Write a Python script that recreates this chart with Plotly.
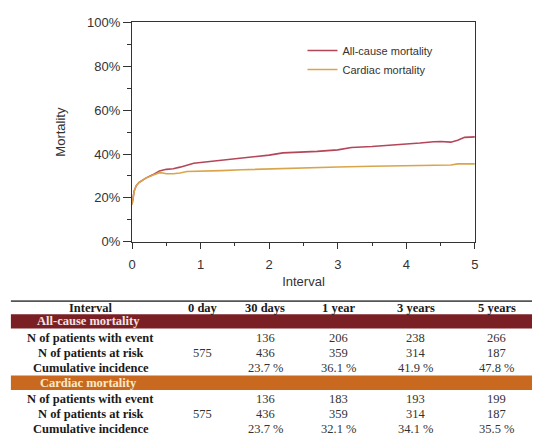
import plotly.graph_objects as go

# ---- Cumulative incidence curves (years, %) ----
allcause_t = [0, 0.01, 0.03, 0.06, 0.1, 0.15, 0.2, 0.3, 0.4, 0.5, 0.6, 0.7, 0.8, 0.9, 1.0,
              1.2, 1.4, 1.6, 1.8, 2.0, 2.2, 2.5, 2.7, 3.0, 3.2, 3.5, 3.8, 4.0, 4.2, 4.4,
              4.5, 4.65, 4.75, 4.85, 5.0]
allcause_y = [17, 20, 23, 25.5, 27, 28, 29, 30.5, 32.3, 33, 33.3, 34, 35, 35.8, 36.1,
              36.8, 37.3, 38, 38.8, 39.5, 40.5, 40.8, 41.2, 41.9, 43, 43.4, 44, 44.6, 45, 45.6,
              45.7, 45.4, 46.3, 47.6, 47.8]

cardiac_t = [0, 0.01, 0.03, 0.06, 0.1, 0.15, 0.2, 0.3, 0.4, 0.45, 0.5, 0.6, 0.7, 0.8, 1.0,
             1.3, 1.6, 2.0, 2.5, 3.0, 3.5, 4.0, 4.5, 4.65, 4.75, 5.0]
cardiac_y = [17, 20, 23, 25.5, 27, 28, 29, 30.3, 31.5, 31.3, 31, 31, 31.3, 32, 32.1,
             32.4, 32.8, 33.2, 33.8, 34.1, 34.4, 34.8, 35.1, 35.0, 35.5, 35.5]

# ---- Table of numbers at risk ----
col_headers = ["Interval", "0 day", "30 days", "1 year", "3 years", "5 years"]
row_labels = ["N of patients with event", "N of patients at risk", "Cumulative incidence"]
allcause_rows = [
    ["", "136", "206", "238", "266"],
    ["575", "436", "359", "314", "187"],
    ["", "23.7 %", "36.1 %", "41.9 %", "47.8 %"],
]
cardiac_rows = [
    ["", "136", "183", "193", "199"],
    ["575", "436", "359", "314", "187"],
    ["", "23.7 %", "32.1 %", "34.1 %", "35.5 %"],
]

W, H = 536, 439
AX_L, AX_R, AX_T, AX_B = 130, 478, 16, 243

ALL_COLOR = "#b4465a"
CARD_COLOR = "#d9a54a"

fig = go.Figure()
fig.add_trace(go.Scatter(x=allcause_t, y=allcause_y, mode="lines", name="All-cause mortality",
                         line=dict(color=ALL_COLOR, width=1.6)))
fig.add_trace(go.Scatter(x=cardiac_t, y=cardiac_y, mode="lines", name="Cardiac mortality",
                         line=dict(color=CARD_COLOR, width=1.6)))

axis_font = dict(family="Liberation Sans, Arial, sans-serif", size=13, color="#333333")

fig.update_layout(
    width=W, height=H,
    margin=dict(l=0, r=0, t=0, b=0),
    paper_bgcolor="white", plot_bgcolor="white",
    showlegend=True,
    legend=dict(x=303 / W, y=1 - 30 / H, xanchor="left", yanchor="top",
                font=dict(family="Liberation Sans, Arial, sans-serif", size=11, color="#333333"),
                bgcolor="rgba(0,0,0,0)", itemwidth=30, tracegroupgap=0),
    xaxis=dict(domain=[AX_L / W, AX_R / W], range=[0, 5], tickmode="array",
               tickvals=[0, 1, 2, 3, 4, 5], ticks="outside", ticklen=6, tickwidth=1.2,
               tickcolor="#333333", showline=True, linecolor="#333333", linewidth=1.2,
               mirror=True, showgrid=False, zeroline=False, tickfont=axis_font,
               ticklabelstandoff=5,
               minor=dict(tickvals=[0.5, 1.5, 2.5, 3.5, 4.5], ticks="outside", ticklen=3,
                          tickcolor="#333333", tickwidth=1),
               title=dict(text="Interval", font=axis_font, standoff=5)),
    yaxis=dict(domain=[1 - AX_B / H, 1 - AX_T / H], range=[0, 100], tickmode="array",
               tickvals=[0, 20, 40, 60, 80, 100],
               ticktext=["0%", "20%", "40%", "60%", "80%", "100%"],
               ticks="outside", ticklen=8, tickwidth=1.2, tickcolor="#333333",
               showline=True, linecolor="#333333", linewidth=1.2, mirror=True,
               showgrid=False, zeroline=False, tickfont=axis_font,
               minor=dict(tickvals=[10, 30, 50, 70, 90], ticks="outside", ticklen=4,
                          tickcolor="#333333", tickwidth=1),
               title=dict(text="Mortality", font=axis_font, standoff=18)),
)

# ---- Table drawn in paper coordinates ----
def py(pix):
    return 1 - pix / H

def px(pix):
    return pix / W

col_x = [88, 202, 265, 340, 418, 500]
serif = "Liberation Serif, Times New Roman, serif"
shapes = []
annots = []

# rule above the header
shapes.append(dict(type="line", xref="paper", yref="paper", x0=px(7), x1=px(536),
                   y0=py(304.5), y1=py(304.5), line=dict(color="#555555", width=1.8)))
for i, h in enumerate(col_headers):
    annots.append(dict(text="<b>" + h + "</b>", x=px(col_x[i]), y=py(311.5), xref="paper",
                       yref="paper", showarrow=False, xanchor="center", yanchor="middle",
                       font=dict(family=serif, size=12.5, color="#1a1a1a")))

sections = [
    ("All-cause mortality", "#7a1f24", "#f3e2e2", 318, allcause_rows),
    ("Cardiac mortality", "#c8691f", "#fbe9c8", 381.5, cardiac_rows),
]
for title, band, tcol, top, rows in sections:
    shapes.append(dict(type="rect", xref="paper", yref="paper", x0=px(7), x1=px(536),
                       y0=py(top + 15), y1=py(top), fillcolor=band, line=dict(width=0),
                       layer="below"))
    annots.append(dict(text="<b>" + title + "</b>", x=px(86), y=py(top + 7.5), xref="paper",
                       yref="paper", showarrow=False, xanchor="center", yanchor="middle",
                       font=dict(family=serif, size=12.5, color=tcol)))
    for r, lab in enumerate(row_labels):
        yy = top + 24.5 + r * 15.7
        annots.append(dict(text="<b>" + lab + "</b>", x=px(col_x[0]), y=py(yy), xref="paper",
                           yref="paper", showarrow=False, xanchor="center", yanchor="middle",
                           font=dict(family=serif, size=12.5, color="#1a1a1a")))
        for c, val in enumerate(rows[r]):
            if val:
                annots.append(dict(text=val, x=px(col_x[c + 1]), y=py(yy), xref="paper",
                                   yref="paper", showarrow=False, xanchor="center",
                                   yanchor="middle",
                                   font=dict(family=serif, size=12.5, color="#333333")))

fig.update_layout(shapes=shapes, annotations=annots)
fig.write_html("out.html")
